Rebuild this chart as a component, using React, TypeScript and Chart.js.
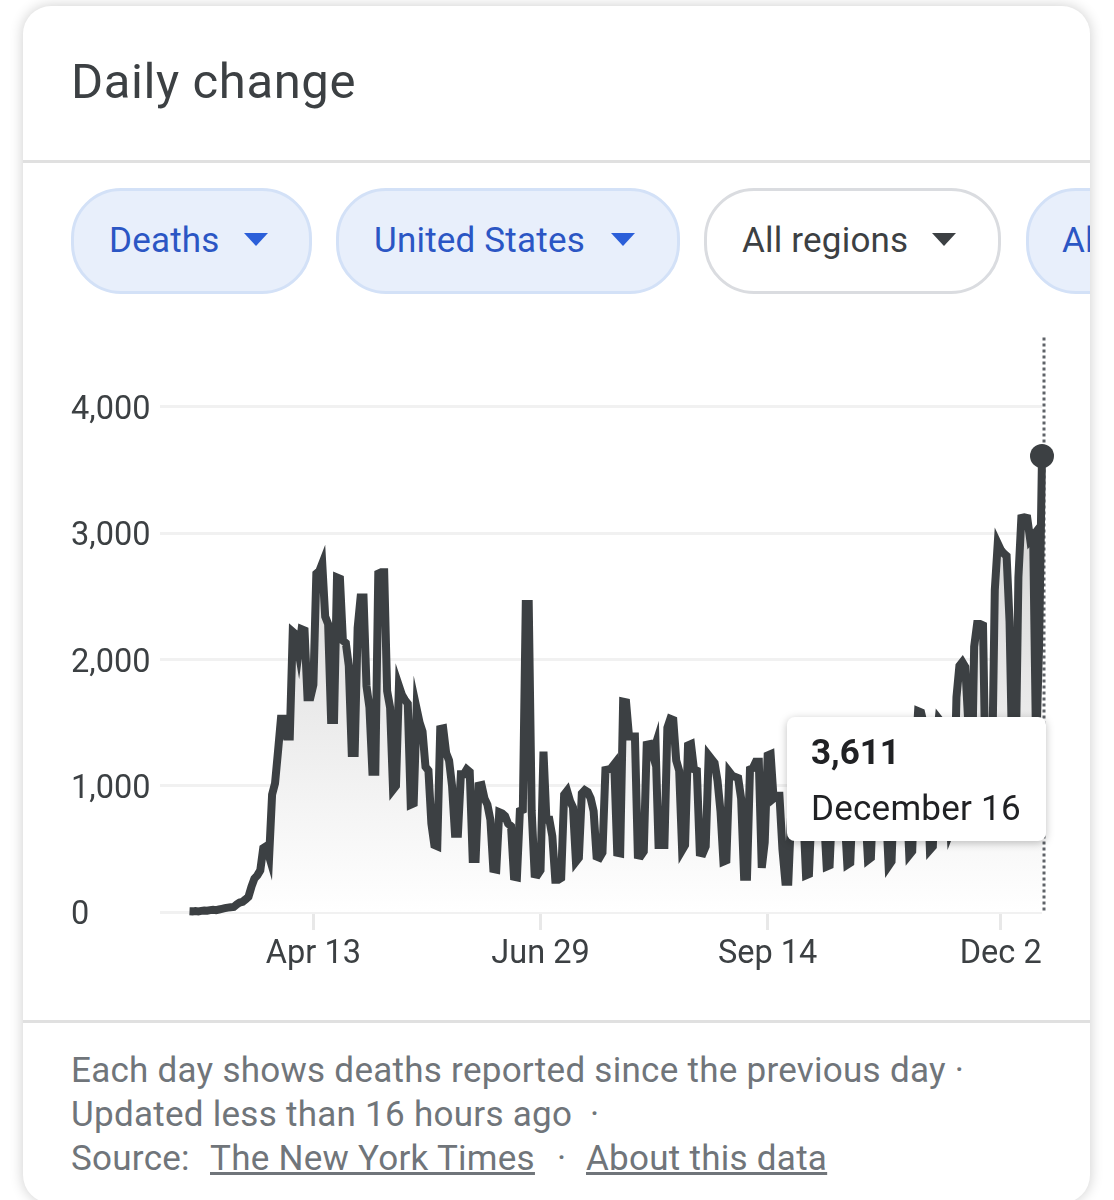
import React, { useEffect, useRef } from "react";
import Chart from "chart.js/auto";

// daily deaths, one array per month, first point is March 2
const march = [6, 5, 8, 5, 9, 12, 10, 15, 18, 15, 20, 25, 30, 35, 38, 40, 60, 75, 80, 100, 121, 200, 265, 290, 330, 505, 520, 440, 930, 1020];
const april = [1270, 1530, 1530, 1390, 1390, 2220, 2200, 2060, 2240, 2230, 1700, 1700, 1800, 2680, 2700, 2760, 2340, 2280, 1520, 1520, 2650, 2640, 2150, 2130, 1950, 1260, 1260, 2250, 2490, 2490];
const may = [1790, 1620, 1110, 1110, 2680, 2690, 2690, 1750, 1620, 970, 1000, 1790, 1720, 1680, 1650, 850, 860, 1610, 1500, 1430, 1150, 1120, 700, 530, 520, 1450, 1455, 1260, 1200, 1000, 620];
const june = [620, 1090, 1090, 1130, 1110, 420, 420, 1000, 1005, 900, 850, 730, 340, 335, 790, 780, 760, 700, 680, 280, 275, 800, 810, 2440, 2440, 800, 300, 295, 330, 1270];
const july = [730, 730, 600, 255, 255, 270, 930, 960, 880, 830, 400, 430, 940, 965, 950, 900, 800, 440, 430, 470, 1125, 1130, 1140, 1170, 470, 465, 1665, 1660, 1390, 1390, 1390];
const august = [450, 445, 480, 1325, 1330, 1250, 1325, 530, 530, 530, 1460, 1530, 1520, 1200, 1120, 490, 530, 1320, 1330, 1130, 1120, 470, 465, 520, 1240, 1210, 1180, 1040, 800, 400, 410];
const september = [1110, 1080, 1070, 1060, 900, 280, 280, 1130, 1140, 1190, 1190, 350, 550, 1240, 1250, 900, 920, 920, 500, 240, 240, 800, 950, 1020, 930, 820, 290, 300, 870, 1050];
const october = [1030, 960, 800, 360, 370, 920, 1080, 1100, 1000, 800, 375, 390, 1000, 1180, 1160, 1050, 850, 412, 430, 1050, 1220, 1230, 1150, 880, 366, 400, 1100, 1300, 1330, 1260, 1000];
const november = [451, 480, 1200, 1590, 1580, 1480, 1200, 493, 520, 1300, 1530, 1500, 1400, 1100, 640, 700, 1700, 1950, 1980, 1940, 1500, 760, 2100, 2280, 2280, 2270, 900, 1000, 1000, 2550];
const december = [2920, 2870, 2840, 2820, 2300, 1100, 1050, 2650, 3120, 3125, 3120, 2950, 2980, 1300, 2100, 3611];
const deaths = [...march, ...april, ...may, ...june, ...july, ...august, ...september, ...october, ...november, ...december];

const tickDays = [42, 119, 196, 275];
const tickLabels = ["Apr 13", "Jun 29", "Sep 14", "Dec 2"];
const yTicks = [0, 1000, 2000, 3000, 4000];

const font = "Roboto, sans-serif";
const lineColor = "#3c4043";

// dotted cursor goes under the line so the end dot stays solid
const cursorLine = {
  id: "cursorLine",
  beforeDatasetsDraw(chart: any) {
    const { ctx, chartArea } = chart;
    const x = chart.scales.x.getPixelForValue(deaths.length - 1);
    ctx.save();
    ctx.strokeStyle = "#5f6368";
    ctx.lineWidth = 3;
    ctx.setLineDash([3, 3]);
    ctx.beginPath();
    ctx.moveTo(x + 2, chartArea.top);
    ctx.lineTo(x + 2, chartArea.bottom);
    ctx.stroke();
    ctx.restore();
  },
};

function Chip({ left, width, label, blue, arrowLeft, textLeft = 35 }: any) {
  const color = blue ? "#2b56c4" : "#3c4043";
  return (
    <div
      style={{
        position: "absolute",
        left,
        top: 188,
        width,
        height: 106,
        boxSizing: "border-box",
        borderRadius: 50,
        border: `3px solid ${blue ? "#d3e1f7" : "#dadce0"}`,
        background: blue ? "#e8effb" : "#fff",
      }}
    >
      <span style={{ position: "absolute", left: textLeft, top: 0, lineHeight: "99px", fontSize: 35, letterSpacing: 0.2, color, whiteSpace: "nowrap" }}>{label}</span>
      {arrowLeft ? (
        <span
          style={{
            position: "absolute",
            left: arrowLeft,
            top: 42,
            width: 0,
            height: 0,
            borderLeft: "12px solid transparent",
            borderRight: "12px solid transparent",
            borderTop: `13px solid ${blue ? "#2b5fd9" : "#3c4043"}`,
          }}
        />
      ) : null}
    </div>
  );
}

export default function App() {
  const canvasRef = useRef<HTMLCanvasElement>(null);

  useEffect(() => {
    if (!canvasRef.current) return;
    const chart = new Chart(canvasRef.current, {
      type: "line",
      data: {
        datasets: [
          {
            data: deaths.map((y, x) => ({ x, y })),
            borderColor: lineColor,
            borderWidth: 8,
            borderJoinStyle: "miter",
            tension: 0,
            clip: false,
            fill: "origin",
            backgroundColor: (c: any) => {
              const area = c.chart.chartArea;
              if (!area) return "#eee";
              const g = c.chart.ctx.createLinearGradient(0, c.chart.scales.y.getPixelForValue(3000), 0, area.bottom);
              g.addColorStop(0, "#d8d8d8");
              g.addColorStop(1, "#ffffff");
              return g;
            },
            pointRadius: (c: any) => (c.dataIndex === deaths.length - 1 ? 12 : 0),
            pointBackgroundColor: lineColor,
            pointBorderWidth: 0,
          } as any,
        ],
      },
      options: {
        animation: false,
        responsive: false,
        layout: { padding: { left: 71, right: 72, top: 8, bottom: 0 } },
        plugins: { legend: { display: false }, tooltip: { enabled: false } },
        scales: {
          x: {
            type: "linear",
            min: -10,
            max: deaths.length - 1,
            afterBuildTicks: (scale: any) => {
              scale.ticks = tickDays.map((value) => ({ value }));
            },
            afterFit: (scale: any) => {
              scale.height = 78;
            },
            grid: { drawOnChartArea: false, color: "#e8e8e8", lineWidth: 3, tickLength: 18 },
            border: { display: false },
            ticks: {
              autoSkip: false,
              maxRotation: 0,
              padding: 5,
              color: lineColor,
              font: { family: font, size: 32.5 },
              callback: (value: any) => tickLabels[tickDays.indexOf(value)],
            },
          },
          y: {
            min: 0,
            max: 4550,
            afterBuildTicks: (scale: any) => {
              scale.ticks = yTicks.map((value) => ({ value }));
            },
            afterFit: (scale: any) => {
              scale.width = 89;
            },
            grid: { color: "#f1f1f1", lineWidth: 3, drawTicks: false },
            border: { display: false },
            ticks: {
              autoSkip: false,
              crossAlign: "far",
              padding: 0,
              labelOffset: 4,
              color: lineColor,
              font: { family: font, size: 32.5 },
              callback: (value: any) => Number(value).toLocaleString("en-US"),
            },
          },
        },
      },
      plugins: [cursorLine],
    } as any);
    return () => {
      chart.destroy();
    };
  }, []);

  const footerLine = { position: "absolute", left: 71, fontSize: 35, letterSpacing: 0.27, lineHeight: "44px", color: "#70757a", whiteSpace: "pre" } as const;
  const link = { position: "absolute", top: 0, textDecoration: "underline" } as const;

  return (
    <div style={{ position: "absolute", left: 0, top: 0, width: 1114, height: 1200, overflow: "hidden", background: "#fff", fontFamily: font }}>
      <div
        style={{
          position: "absolute",
          left: 23,
          top: 6,
          width: 1067,
          height: 1197,
          borderRadius: 28,
          background: "#fff",
          boxShadow: "0 0 14px rgba(0,0,0,0.2)",
        }}
      />
      <div style={{ position: "absolute", left: 71, top: 52, fontSize: 49, letterSpacing: 0.6, lineHeight: "60px", color: "#3c4043" }}>Daily change</div>
      <div style={{ position: "absolute", left: 23, top: 160, width: 1067, height: 3, background: "#e0e0e0" }} />

      <div style={{ position: "absolute", left: 23, top: 170, width: 1067, height: 140, overflow: "hidden" }}>
        <div style={{ position: "absolute", left: -23, top: -170, width: 1300, height: 400 }}>
          <Chip left={71} width={241} label="Deaths" blue arrowLeft={170} />
          <Chip left={336} width={344} label="United States" blue arrowLeft={272} />
          <Chip left={704} width={297} label="All regions" arrowLeft={225} />
          <Chip left={1026} width={240} label="All ages" blue textLeft={33} />
        </div>
      </div>

      <canvas ref={canvasRef} width={1114} height={672} style={{ position: "absolute", left: 0, top: 318, width: 1114, height: 672 }} />

      <div
        style={{
          position: "absolute",
          left: 787,
          top: 717,
          width: 259,
          height: 124,
          borderRadius: 8,
          background: "#fff",
          boxShadow: "0 2px 8px rgba(0,0,0,0.25)",
          color: "#202124",
          fontSize: 35,
        }}
      >
        <div style={{ position: "absolute", left: 24, top: 14, lineHeight: "44px", fontWeight: 700 }}>3,611</div>
        <div style={{ position: "absolute", left: 24, top: 70, lineHeight: "44px", letterSpacing: 0.25, whiteSpace: "nowrap" }}>December 16</div>
      </div>

      <div style={{ position: "absolute", left: 23, top: 1020, width: 1067, height: 3, background: "#e0e0e0" }} />
      <div style={{ ...footerLine, top: 1049 }}>Each day shows deaths reported since the previous day ·</div>
      <div style={{ ...footerLine, top: 1093 }}>Updated less than 16 hours ago  ·</div>
      <div style={{ ...footerLine, top: 1137, width: 900, height: 44 }}>
        Source:
        <span style={{ ...link, left: 139 }}>The New York Times</span>
        <span style={{ position: "absolute", top: 0, left: 486 }}>·</span>
        <span style={{ ...link, left: 515 }}>About this data</span>
      </div>
    </div>
  );
}
